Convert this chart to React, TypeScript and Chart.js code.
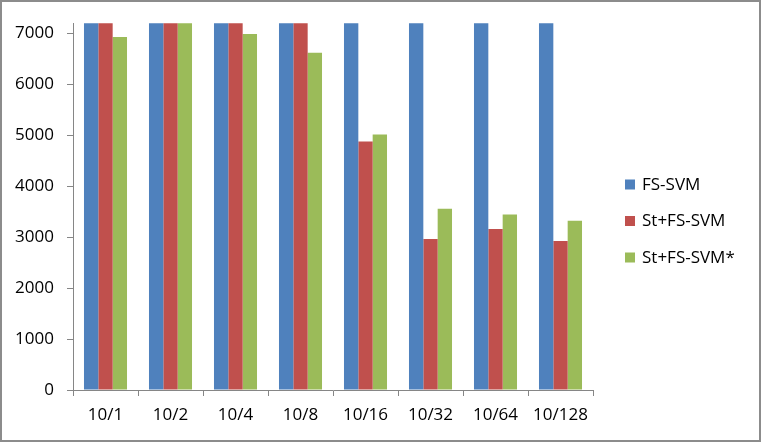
import React, { useEffect, useRef } from "react";
import { Chart, registerables } from "chart.js";

Chart.register(...registerables);

// ---- data ----
const categories = ["10/1", "10/2", "10/4", "10/8", "10/16", "10/32", "10/64", "10/128"];
const seriesNames = ["FS-SVM", "St+FS-SVM", "St+FS-SVM*"];
// values above the axis maximum are clipped in the reference (true height unknown)
const fsSvm = [12000, 12000, 12000, 12000, 12000, 12000, 12000, 12000];
const stFsSvm = [9000, 9000, 9000, 9000, 4880, 2965, 3160, 2925];
const stFsSvmStar = [6930, 9000, 6990, 6620, 5015, 3560, 3445, 3320];
const yTickValues = [0, 1000, 2000, 3000, 4000, 5000, 6000, 7000];
const yMin = 0;
const yMax = 7200;

const colors = ["#4F81BD", "#C0504D", "#9BBB59"];
const axisColor = "#868686";
const fontFamily = "'Open Sans', 'DejaVu Sans', sans-serif";
const fontSize = 17;

const frameAndLegend = {
  id: "frameAndLegend",
  beforeDraw(chart: any) {
    const { ctx, width, height } = chart;
    ctx.save();
    ctx.fillStyle = "#ffffff";
    ctx.fillRect(0, 0, width, height);
    ctx.restore();
  },
  afterDraw(chart: any) {
    const { ctx, width, height } = chart;
    ctx.save();
    // outer frame
    ctx.strokeStyle = "#8c8c8c";
    ctx.lineWidth = 2;
    ctx.strokeRect(1, 1, width - 2, height - 2);
    // legend
    const ds = chart.data.datasets;
    const spacing = 36.5;
    const cy = 221;
    const startY = cy - ((ds.length - 1) * spacing) / 2;
    ctx.font = `${fontSize}px ${fontFamily}`;
    ctx.textBaseline = "middle";
    ctx.textAlign = "left";
    ds.forEach((d: any, i: number) => {
      const y = startY + i * spacing;
      ctx.fillStyle = d.backgroundColor;
      ctx.fillRect(625, y - 5, 10, 10);
      ctx.fillStyle = "#000000";
      ctx.fillText(d.label, 642, y + 0.5);
    });
    ctx.restore();
  },
};

export default function App() {
  const ref = useRef<HTMLCanvasElement | null>(null);

  useEffect(() => {
    if (!ref.current) return;
    const seriesValues = [fsSvm, stFsSvm, stFsSvmStar];
    const chart = new Chart(ref.current, {
      type: "bar",
      data: {
        labels: categories,
        datasets: seriesValues.map((vals, i) => ({
          label: seriesNames[i],
          data: vals,
          backgroundColor: colors[i],
          borderWidth: 0,
          categoryPercentage: 0.662,
          barPercentage: 1,
        })),
      },
      plugins: [frameAndLegend],
      options: {
        responsive: false,
        animation: false,
        devicePixelRatio: 1,
        layout: { padding: { left: 0, top: 23, right: 168, bottom: 0 } },
        plugins: {
          legend: { display: false },
          tooltip: { enabled: false },
          title: { display: false },
        },
        scales: {
          x: {
            type: "category",
            offset: true,
            grid: {
              offset: true,
              drawOnChartArea: false,
              drawTicks: true,
              tickLength: 6,
              color: axisColor,
            },
            border: { display: true, color: axisColor, width: 1 },
            ticks: {
              padding: 9,
              color: "#000000",
              font: { family: fontFamily, size: fontSize },
              maxRotation: 0,
              autoSkip: false,
            },
            afterFit(scale: any) {
              scale.height = 52;
            },
          },
          y: {
            type: "linear",
            min: yMin,
            max: yMax,
            grid: {
              drawOnChartArea: false,
              drawTicks: true,
              tickLength: 6,
              color: axisColor,
            },
            border: { display: true, color: axisColor, width: 1 },
            ticks: {
              padding: 13,
              color: "#000000",
              font: { family: fontFamily, size: fontSize },
              callback: (v: any) => String(v),
            },
            afterBuildTicks(scale: any) {
              scale.ticks = yTickValues.map((v) => ({ value: v }));
            },
            afterFit(scale: any) {
              scale.width = 73;
            },
          },
        },
      },
    });
    return () => chart.destroy();
  }, []);

  return (
    <div style={{ position: "fixed", left: 0, top: 0, width: 761, height: 442 }}>
      <canvas ref={ref} width={761} height={442} style={{ display: "block" }} />
    </div>
  );
}
